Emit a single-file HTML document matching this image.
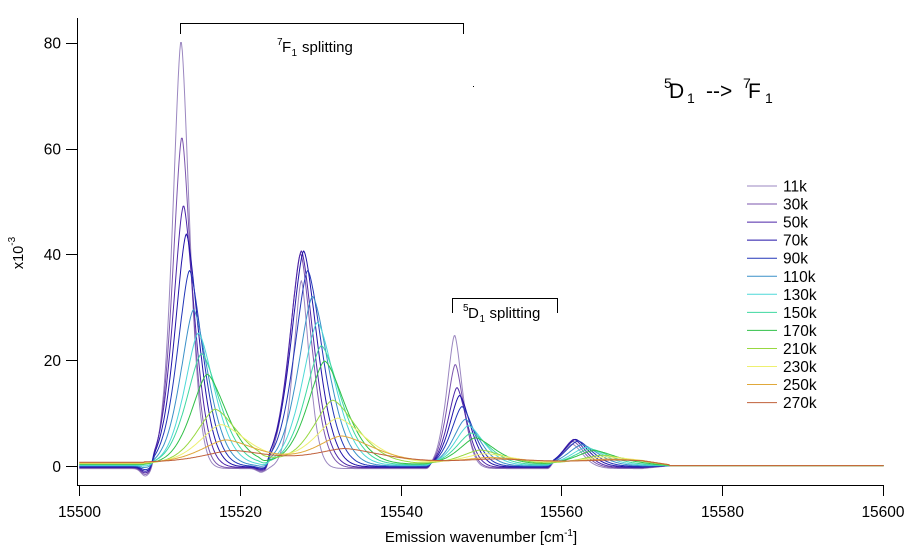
<!DOCTYPE html>
<html><head><meta charset="utf-8"><style>
html,body{margin:0;padding:0;background:#fff;}
svg{display:block;font-family:"Liberation Sans",Arial,sans-serif;}
</style></head><body>
<svg id="chart" width="920" height="546" viewBox="0 0 920 546" xmlns="http://www.w3.org/2000/svg">
<rect width="920" height="546" fill="#fff"/>
<g id="curves" fill="none" stroke-width="1" stroke-linejoin="round"></g>
<g stroke="#000" stroke-width="1" fill="none" shape-rendering="crispEdges">
<path d="M77.5,18 V485.5 H884"/>
<path d="M66,466.5 H77 M66,360.5 H77 M66,254.5 H77 M66,149.5 H77 M66,43.5 H77"/>
<path d="M79.5,485 V496 M240.5,485 V496 M401.5,485 V496 M561.5,485 V496 M722.5,485 V496 M883.5,485 V496"/>
<path d="M180.5,34 V23.5 H463.5 V34"/>
<path d="M452.5,313 V298.5 H557.5 V313"/>
</g>
<rect x="473" y="86" width="1" height="1" fill="#000"/>
<g font-size="15.5" fill="#000" text-anchor="end">
<text x="61" y="472">0</text>
<text x="61" y="366">20</text>
<text x="61" y="260">40</text>
<text x="61" y="154.5">60</text>
<text x="61" y="48.5">80</text>
</g>
<g font-size="15.5" fill="#000" text-anchor="middle">
<text x="79.5" y="517">15500</text>
<text x="240.5" y="517">15520</text>
<text x="401.5" y="517">15540</text>
<text x="561.5" y="517">15560</text>
<text x="722.5" y="517">15580</text>
<text x="883" y="517">15600</text>
</g>
<text x="481" y="542" font-size="15" text-anchor="middle" fill="#000">Emission wavenumber [cm<tspan font-size="10" dy="-6">-1</tspan><tspan dy="6">]</tspan></text>
<text transform="translate(23,253) rotate(-90)" font-size="14.5" text-anchor="middle" fill="#000">x10<tspan font-size="10" dy="-8">-3</tspan></text>
<g fill="#000">
<text x="277" y="45" font-size="10">7</text>
<text x="282" y="52" font-size="15">F</text>
<text x="291.5" y="56" font-size="10">1</text>
<text x="302" y="52" font-size="15">splitting</text>
<text x="463" y="311" font-size="10">5</text>
<text x="468" y="318" font-size="15">D</text>
<text x="479.5" y="322" font-size="10">1</text>
<text x="489.5" y="318" font-size="15">splitting</text>
<text x="664" y="88" font-size="14">5</text>
<text x="669" y="98" font-size="21">D</text>
<text x="687" y="103" font-size="14">1</text>
<text x="706" y="98" font-size="21">--&gt;</text>
<text x="743" y="88" font-size="14">7</text>
<text x="748" y="98" font-size="21">F</text>
<text x="765" y="103" font-size="14">1</text>
</g>
<g id="legend" font-size="15.5" fill="#000"></g>
</svg>
<script>
(function(){
var cols=['#9b87c0','#7b55ae','#4c25a8','#2012a8','#2236b8','#3a90c8','#4fd8d8','#3ed8a0','#30c048','#98d840','#eef070','#e0a83a','#c0603a'];
var labs=['11k','30k','50k','70k','90k','110k','130k','150k','170k','210k','230k','250k','270k'];
var P1=[[15512.65,80.8,1.0],[15512.75,62.5,1.1],[15512.95,49.5,1.25],[15513.3,44,1.35],[15513.7,37,1.45],[15514.2,29.5,1.55],[15514.8,25,1.65],[15515.2,21,1.8],[15515.9,17,1.9],[15516.9,10.3,2.2],[15517.6,7.3,2.5],[15518.2,4.3,2.9],[15519,2.2,3.3]];
var P2=[[15527.6,35.5,0.95],[15527.5,40.5,1.3],[15527.6,40.9,1.4],[15527.9,40.8,1.5],[15528.4,37,1.6],[15529.0,32,1.7],[15529.6,27,1.8],[15530.1,22.5,1.9],[15530.5,19.5,2.0],[15531.5,12,2.3],[15532.1,8.5,2.6],[15532.6,5,2.9],[15533,2.5,3.3]];
var P3=[[15546.66,25.2,0.95],[15546.75,19.6,1.0],[15546.96,15.1,1.1],[15547.28,13.5,1.2],[15547.58,11.3,1.3],[15547.99,8.8,1.45],[15548.37,7.5,1.6],[15548.74,6,1.75],[15549.24,5,1.9],[15549.86,2.6,2.2],[15550.48,1.8,2.5],[15551.1,1.0,2.9],[15551.7,0.6,3.3]];
var P4=[[15561.3,4.6,1.25],[15561.4,5.0,1.3],[15561.5,5.3,1.35],[15561.7,5.2,1.45],[15562.0,4.8,1.55],[15562.5,4.0,1.7],[15563,3.4,1.8],[15563.5,3.0,1.9],[15564,2.6,2.1],[15565,1.6,2.4],[15565.5,1.2,2.7],[15566,0.7,3.0],[15566.5,0.4,3.3]];
var P=[P1,P2,P3,P4];
var W=[[15508.6,15523.0],[15523.0,15541.6],[15543.1,15558.0],[15558.2,15573.3]];
var dipA=[-1.4,-1.2,-1.0,-0.8,-0.6,-0.35,-0.15,0,0,0,0,0,0];
function X(v){return 79.3+(v-15500)*8.043;}
function Y(y){return 466.7-y*5.295;}
function ss(t){if(t<=0)return 0;if(t>=1)return 1;return t*t*(3-2*t);}
var NS='http://www.w3.org/2000/svg';
var g=document.getElementById('curves');
for(var i=0;i<13;i++){
  var d='';
  var f=Math.min(1,Math.max(0,(i-4)/6));
  for(var k=0;k<=1000;k++){
    var v=15500+k*0.1;
    var b0=-0.35+0.1*i, b1=0.2, t;
    if(v<15570)t=0;else if(v>15573.5)t=1;else t=(v-15570)/3.5;
    var y=b0*(1-t)+b1*t;
    y+=dipA[i]*Math.exp(-0.5*Math.pow((v-15508.2)/0.5,2));
    y+=0.5*dipA[i]*Math.exp(-0.5*Math.pow((v-15522.6)/0.5,2));
    for(var p=0;p<4;p++){
      var c=P[p][i][0],h=P[p][i][1],s=P[p][i][2];
      var r=ss((v-W[p][0])/0.8)*ss((W[p][1]-v)/0.8);
      if(p===3&&v>W[3][1])r=0;
      else r=r+(1-r)*f;
      if(v<W[0][0]-0.5&&p===0)r=ss((v-W[0][0])/0.8);
      if(r<=0)continue;
      var se=v<c?s:s*(1+0.025*i);
      y+=r*h*Math.exp(-0.5*Math.pow(Math.abs(v-c)/se,1.6));
    }
    d+=(k?'L':'M')+X(v).toFixed(1)+','+Y(y).toFixed(1);
  }
  var path=document.createElementNS(NS,'path');
  path.setAttribute('d',d);path.setAttribute('stroke',cols[i]);
  g.appendChild(path);
}
var lg=document.getElementById('legend');
for(var j=0;j<13;j++){
  var yy=186+18.05*j;
  var ln=document.createElementNS(NS,'line');
  ln.setAttribute('x1',747);ln.setAttribute('x2',777);
  ln.setAttribute('y1',yy);ln.setAttribute('y2',yy);
  ln.setAttribute('stroke',cols[j]);ln.setAttribute('stroke-width',1);
  lg.appendChild(ln);
  var tx=document.createElementNS(NS,'text');
  tx.setAttribute('x',783);tx.setAttribute('y',yy+5.5);
  tx.textContent=labs[j];
  lg.appendChild(tx);
}
})();
</script>
</body></html>
